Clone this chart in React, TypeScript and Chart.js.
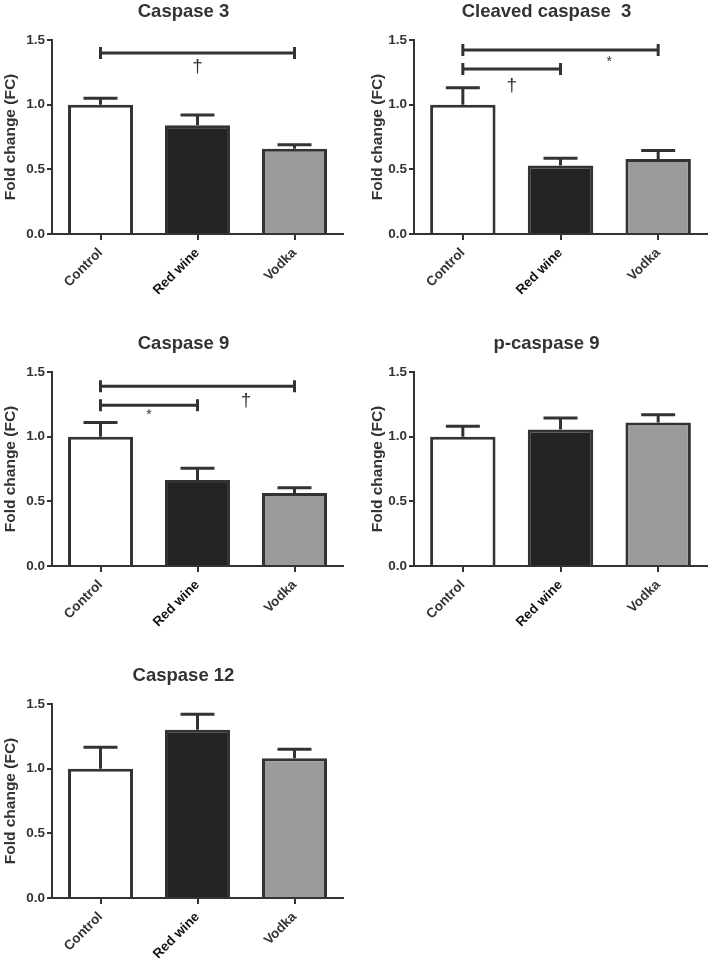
import React, { useEffect, useRef } from 'react';
import { Chart, registerables } from 'chart.js';
Chart.register(...registerables);

const categories = ['Control', 'Red wine', 'Vodka'];
const yTicks = [0, 0.5, 1.0, 1.5];
const yTitle = 'Fold change (FC)';

const caspase3Mean = [1.0, 0.84, 0.66];
const caspase3Err = [0.05, 0.08, 0.03];
const cleavedMean = [1.0, 0.53, 0.58];
const cleavedErr = [0.13, 0.055, 0.065];
const caspase9Mean = [1.0, 0.665, 0.565];
const caspase9Err = [0.11, 0.09, 0.04];
const pCaspase9Mean = [1.0, 1.055, 1.11];
const pCaspase9Err = [0.08, 0.09, 0.06];
const caspase12Mean = [1.0, 1.3, 1.08];
const caspase12Err = [0.165, 0.12, 0.07];

type Bracket = { from: number; to: number; y: number };
type Sym = { x: number; y: number; text: string };

const caspase3Brackets: Bracket[] = [{ from: 0, to: 2, y: 1.4 }];
const caspase3Symbols: Sym[] = [{ x: 1, y: 1.29, text: '†' }];
const cleavedBrackets: Bracket[] = [
  { from: 0, to: 2, y: 1.423 },
  { from: 0, to: 1, y: 1.276 },
];
const cleavedSymbols: Sym[] = [
  { x: 0.5, y: 1.15, text: '†' },
  { x: 1.5, y: 1.33, text: '*' },
];
const caspase9Brackets: Bracket[] = [
  { from: 0, to: 2, y: 1.389 },
  { from: 0, to: 1, y: 1.242 },
];
const caspase9Symbols: Sym[] = [
  { x: 0.5, y: 1.17, text: '*' },
  { x: 1.5, y: 1.28, text: '†' },
];

const FONT = '"Liberation Sans", Arial, Helvetica, sans-serif';
const INK = '#333333';
const FILLS = ['#ffffff', '#232323', '#9b9b9b'];

type PanelProps = {
  title: string;
  means: number[];
  errs: number[];
  brackets: Bracket[];
  symbols: Sym[];
  left: number;
  top: number;
  width: number;
  height: number;
  padLeft: number;
  yWidth: number;
  padRight: number;
};

function Panel(p: PanelProps) {
  const ref = useRef<HTMLCanvasElement | null>(null);
  useEffect(() => {
    if (!ref.current) return;
    const plotBottom = 234;
    const extras = {
      id: 'extras',
      afterDatasetsDraw(chart: any) {
        const ctx = chart.ctx;
        const xs = chart.scales.x;
        const ys = chart.scales.y;
        const meta = chart.getDatasetMeta(0);
        ctx.save();
        ctx.strokeStyle = INK;
        ctx.lineWidth = 3;
        ctx.lineCap = 'butt';
        meta.data.forEach((el: any, i: number) => {
          const x = el.x;
          const y0 = ys.getPixelForValue(p.means[i]);
          const y1 = ys.getPixelForValue(p.means[i] + p.errs[i]);
          ctx.beginPath();
          ctx.moveTo(x, y0);
          ctx.lineTo(x, y1);
          ctx.moveTo(x - 17, y1);
          ctx.lineTo(x + 17, y1);
          ctx.stroke();
        });
        p.brackets.forEach((b) => {
          const xa = xs.getPixelForValue(b.from);
          const xb = xs.getPixelForValue(b.to);
          const y = ys.getPixelForValue(b.y);
          ctx.beginPath();
          ctx.moveTo(xa, y);
          ctx.lineTo(xb, y);
          ctx.moveTo(xa, y - 6);
          ctx.lineTo(xa, y + 6);
          ctx.moveTo(xb, y - 6);
          ctx.lineTo(xb, y + 6);
          ctx.stroke();
        });
        ctx.fillStyle = INK;
        ctx.textAlign = 'center';
        ctx.textBaseline = 'middle';
        p.symbols.forEach((s) => {
          const x = xs.getPixelForValue(s.x);
          const y = ys.getPixelForValue(s.y);
          ctx.font = s.text === '*' ? `14px ${FONT}` : `19px ${FONT}`;
          ctx.fillText(s.text, x, y);
        });
        ctx.restore();
      },
      afterDraw(chart: any) {
        const ctx = chart.ctx;
        const ca = chart.chartArea;
        ctx.save();
        ctx.fillStyle = INK;
        ctx.font = `bold 18.5px ${FONT}`;
        ctx.textAlign = 'center';
        ctx.textBaseline = 'middle';
        ctx.fillText(p.title, (ca.left + ca.right) / 2 - 14, 12);
        ctx.restore();
      },
    };
    const chart = new Chart(ref.current, {
      type: 'bar',
      data: {
        labels: categories,
        datasets: [
          {
            data: p.means,
            backgroundColor: FILLS,
            borderColor: INK,
            borderWidth: 3,
            barPercentage: 0.67,
            categoryPercentage: 1,
          },
        ],
      },
      options: {
        responsive: false,
        animation: false,
        layout: { padding: { top: 40, left: p.padLeft, right: p.padRight, bottom: 0 } },
        plugins: {
          legend: { display: false },
          tooltip: { enabled: false },
          title: { display: false },
        },
        scales: {
          x: {
            type: 'category',
            offset: true,
            z: 1,
            grid: {
              display: true,
              drawOnChartArea: false,
              drawTicks: true,
              tickLength: 6,
              color: INK,
              lineWidth: 2,
              offset: false,
            },
            border: { display: true, color: INK, width: 2 },
            ticks: {
              color: (c: any) => (c.index === 1 ? '#111111' : INK),
              font: { family: FONT, size: 13.5, weight: 'bold' },
              maxRotation: 45,
              minRotation: 45,
              padding: 5,
            },
            afterFit: (s: any) => {
              s.height = p.height - plotBottom;
            },
          },
          y: {
            min: 0,
            max: 1.5,
            z: 1,
            afterBuildTicks: (s: any) => {
              s.ticks = yTicks.map((v) => ({ value: v }));
            },
            ticks: {
              color: INK,
              font: { family: FONT, size: 13.5, weight: 'bold' },
              padding: 2,
              callback: (v: any) => Number(v).toFixed(1),
            },
            grid: {
              display: true,
              drawOnChartArea: false,
              drawTicks: true,
              tickLength: 5,
              color: INK,
              lineWidth: 2,
            },
            border: { display: true, color: INK, width: 2 },
            title: {
              display: true,
              text: yTitle,
              color: INK,
              font: { family: FONT, size: 15.5, weight: 'bold' },
              padding: 0,
            },
            afterFit: (s: any) => {
              s.width = p.yWidth;
            },
          },
        },
      } as any,
      plugins: [extras],
    });
    return () => chart.destroy();
  }, []);
  return (
    <canvas
      ref={ref}
      width={p.width}
      height={p.height}
      style={{
        position: 'absolute',
        left: p.left,
        top: p.top,
        width: p.width,
        height: p.height,
      }}
    />
  );
}

export default function App() {
  return (
    <div
      style={{
        position: 'absolute',
        left: 0,
        top: 0,
        width: 711,
        height: 968,
        background: '#ffffff',
        overflow: 'hidden',
      }}
    >
      <Panel title="Caspase 3" means={caspase3Mean} errs={caspase3Err} brackets={caspase3Brackets} symbols={caspase3Symbols}
        left={0} top={0} width={355} height={332} padLeft={1} yWidth={51} padRight={12} />
      <Panel title="Cleaved caspase  3" means={cleavedMean} errs={cleavedErr} brackets={cleavedBrackets} symbols={cleavedSymbols}
        left={355} top={0} width={356} height={332} padLeft={13} yWidth={46} padRight={4} />
      <Panel title="Caspase 9" means={caspase9Mean} errs={caspase9Err} brackets={caspase9Brackets} symbols={caspase9Symbols}
        left={0} top={332} width={355} height={332} padLeft={1} yWidth={51} padRight={12} />
      <Panel title="p-caspase 9" means={pCaspase9Mean} errs={pCaspase9Err} brackets={[]} symbols={[]}
        left={355} top={332} width={356} height={332} padLeft={13} yWidth={46} padRight={4} />
      <Panel title="Caspase 12" means={caspase12Mean} errs={caspase12Err} brackets={[]} symbols={[]}
        left={0} top={664} width={355} height={304} padLeft={1} yWidth={51} padRight={12} />
    </div>
  );
}
